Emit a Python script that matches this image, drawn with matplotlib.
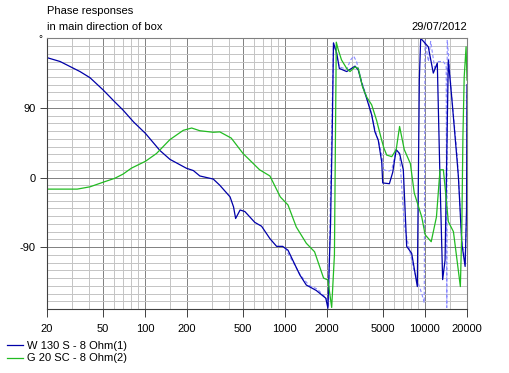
import numpy as np
import matplotlib
matplotlib.use("Agg")
import matplotlib.pyplot as plt
from matplotlib.ticker import FixedLocator, NullFormatter

plt.rcParams['font.family'] = ['Liberation Sans', 'DejaVu Sans']
plt.rcParams['font.size'] = 8

# W 130 S - 8 Ohm(1)
f_w130 = [20, 24.8, 34.4, 40.6, 50.5, 60.8, 70, 82.9, 101, 128, 151, 198, 222, 247,
          308, 343, 406, 430, 445, 479, 518, 610, 682, 782, 873, 964, 1053, 1280,
          1423, 1675, 1960, 2030, 2120, 2180, 2225, 2346, 2450, 2765, 3170, 3345,
          3540, 3843, 4170, 4400, 4650, 4920, 5000, 5580, 5900, 6240, 6600, 7016,
          7415, 8050, 8835, 9130, 9340, 10580, 11490, 12270, 12830, 13400, 13940,
          14710, 15550, 16900, 17360, 18360, 19390, 19850, 20000]
ph_w130 = [155, 150, 137, 129, 113, 98, 87, 72, 57, 35, 23.5, 12, 9, 2,
           -2, -10, -25, -38, -53, -42, -44, -58, -63, -79, -89, -89, -94, -126,
           -139, -146, -156, -169, -60, 60, 174, 161, 141, 137, 144, 139,
           122, 102, 81, 59, 48, 20, -7, -8, 7, 36, 31, 10,
           -89, -98, -141, 126, 180, 169, 135, 148, -3, -132, -107,
           152, 104, 27, 1, -85, -115, -42, 120]

# G 20 SC - 8 Ohm(2)
f_g20 = [20, 32.9, 40.6, 50.5, 61, 70, 80, 101, 121, 151, 188, 216, 247, 308, 343,
         414, 503, 660, 782, 927, 1053, 1207, 1423, 1630, 1890, 2030, 2160, 2260,
         2300, 2330, 2408, 2540, 2765, 2920, 3170, 3345, 3590, 3843, 4170, 4520,
         4920, 5100, 5340, 5800, 6240, 6600, 7130, 7880, 8400, 9500, 10050, 11100,
         12100, 12830, 13560, 13940, 14710, 16000, 17930, 18360, 18700, 19100,
         19700, 20000]
ph_g20 = [-15, -15, -12, -6, -1, 4.5, 12, 21, 31, 49, 61, 64, 60.5, 58.5, 59,
          51, 31, 10, 2, -25, -35.5, -64, -85, -96, -130, -132.5, -168, -100,
          60, 175, 165, 152, 141, 137, 143, 141, 117, 104, 94, 74,
          48, 38, 29, 27, 36, 66, 36, 18, -20, -51, -74, -83,
          -51, 10, 10, -12, -57, -70, -141, -68, 53, 130,
          169, 126]

# dashed reference trace
f_ref = [1000, 1300, 1500, 1700, 2000, 2050, 2130, 2225, 2450, 2765, 2950, 3100,
         3250, 3540, 3843, 4170, 4400, 4650, 4920, 5100, 5500, 5800, 6240, 6600,
         7130, 8360, 9500, 9900, 10020, 10600, 11000, 11800, 12500, 13500, 14200,
         14350, 14450, 15500, 17000, 18400, 19400, 19900, 20000]
ph_ref = [-91, -127, -140, -144, -157, -168, 0, 174, 143, 140, 152, 157,
          150, 124, 104, 82, 62, 48, 30, 10, 8, 10, 36, 30,
          -63, -120, -150, -162, 178, 150, 176, 140, 150, 150, 145,
          -168, 178, 108, 30, -80, -112, -40, 110]

x_major = [20, 50, 100, 200, 500, 1000, 2000, 5000, 10000, 20000]
x_minor = [30, 40, 60, 70, 80, 90, 150, 300, 400, 600, 700, 800, 900, 1500,
           3000, 4000, 6000, 7000, 8000, 9000, 15000]
y_major = [-90, 0, 90]
y_labels = ['-90', '0', '90']

fig = plt.figure(figsize=(5.1, 3.73), dpi=100)
ax = fig.add_axes([47 / 510, 64 / 373, 420 / 510, 270.7 / 373])

ax.plot(f_ref, ph_ref, color='#8a8aff', lw=0.8, dashes=(3, 2))
ax.plot(f_w130, ph_w130, color='#0000a8', lw=0.9, label='W 130 S - 8 Ohm(1)')
ax.plot(f_g20, ph_g20, color='#22bb22', lw=0.9, label='G 20 SC - 8 Ohm(2)')

ax.set_xscale('log')
ax.set_xlim(20, 20000)
ax.set_ylim(-170, 180)

ax.xaxis.set_major_locator(FixedLocator(x_major))
ax.xaxis.set_minor_locator(FixedLocator(x_minor))
ax.xaxis.set_minor_formatter(NullFormatter())
ax.set_xticklabels([str(v) for v in x_major])
ax.yaxis.set_major_locator(FixedLocator(y_major))
ax.yaxis.set_minor_locator(FixedLocator([v for v in range(-170, 181, 10) if v not in y_major]))
ax.set_yticklabels(y_labels)

ax.grid(which='major', color='#808080', lw=0.7)
ax.grid(which='minor', color='#c4c4c4', lw=0.7)
ax.set_axisbelow(True)
ax.tick_params(which='major', direction='out', length=5.5, width=0.7, color='#404040',
               labelsize=8, pad=5)
ax.tick_params(axis='y', which='major', length=5, pad=3)
ax.tick_params(which='minor', length=0)
for s in ax.spines.values():
    s.set_color('#808080')
    s.set_linewidth(0.8)
ax.spines['left'].set_color('#404040')
ax.spines['bottom'].set_color('#404040')

fig.text(47 / 510, 1 - 10.5 / 373, 'Phase responses', va='center', ha='left', fontsize=8)
fig.text(47 / 510, 1 - 27 / 373, 'in main direction of box', va='center', ha='left', fontsize=8)
fig.text(467 / 510, 1 - 27 / 373, '29/07/2012', va='center', ha='right', fontsize=8)
fig.text(40 / 510, 1 - 39 / 373, '°', va='center', ha='center', fontsize=7)

fig.legend(loc='upper left', bbox_to_anchor=(5 / 510, 1 - 339 / 373), frameon=False,
           fontsize=8, handlelength=1.45, handletextpad=0.35, labelspacing=0.2,
           borderpad=0.2, borderaxespad=0)

fig.savefig('out.png', dpi=100)
